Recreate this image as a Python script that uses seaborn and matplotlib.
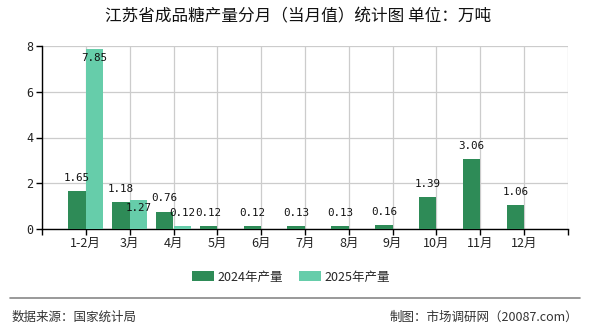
import matplotlib
matplotlib.use("Agg")
import matplotlib.pyplot as plt
import seaborn as sns
import pandas as pd
import numpy as np

months = ["1-2月", "3月", "4月", "5月", "6月", "7月", "8月", "9月", "10月", "11月", "12月"]
v2024 = [1.65, 1.18, 0.76, 0.12, 0.12, 0.13, 0.13, 0.16, 1.39, 3.06, 1.06]
v2025 = [7.85, 1.27, 0.12, None, None, None, None, None, None, None, None]
series = ["2024年产量", "2025年产量"]
yticks = [0, 2, 4, 6, 8]
title = "江苏省成品糖产量分月（当月值）统计图 单位：万吨"
source = "数据来源：国家统计局"
credit = "制图：市场调研网（20087.com）"

sns.set_theme(style="white")
plt.rcParams['font.family'] = ['Noto Sans CJK SC', 'DejaVu Sans']

rows = []
for m, a, b in zip(months, v2024, v2025):
    rows.append({"month": m, "series": series[0], "value": a})
    rows.append({"month": m, "series": series[1], "value": b if b is not None else np.nan})
df = pd.DataFrame(rows)

fig = plt.figure(figsize=(5.9, 3.3), dpi=100)
ax = fig.add_axes([42/590, 1-229/330, (568-42)/590, (229-46)/330])

sns.barplot(data=df, x="month", y="value", hue="series", order=months,
            hue_order=series, palette=["#2E8B57", "#66CDAA"], width=0.8,
            saturation=1, ax=ax, legend=True, zorder=3,
            linewidth=0, edgecolor="none")

n = len(months)
ax.set_xlim(-1, n)
ax.set_ylim(0, 8)
ax.set_xticks(range(-1, n + 1))
ax.set_xticklabels([""] + months + [""], fontsize=9)
ax.set_yticks(yticks)
ax.set_yticklabels([str(t) for t in yticks], fontsize=8.5, family="DejaVu Sans Mono")
ax.set_xlabel("")
ax.set_ylabel("")
ax.grid(True, color="#cccccc", linewidth=0.9, zorder=0)
ax.set_axisbelow(True)
for s in ["top", "right"]:
    ax.spines[s].set_visible(False)
ax.spines["left"].set_color("black")
ax.spines["bottom"].set_color("black")
ax.spines["left"].set_linewidth(1)
ax.spines["bottom"].set_linewidth(1)
ax.tick_params(axis="both", direction="out", length=4, width=1, color="black",
               bottom=True, left=True, pad=2, labelcolor="#222222")

# data labels
label_font = dict(fontsize=7.8, family="DejaVu Sans Mono", color="#111111", ha="center",
                  va="center", zorder=5)
off25 = {0: -6.5, 1: -6, 2: 9.5}
for i, v in enumerate(v2024):
    ax.annotate(f"{v:.2f}", (i - 0.2, v), xytext=(0, 9.5), textcoords="offset points",
                **label_font)
for i, v in enumerate(v2025):
    if v is None:
        continue
    ax.annotate(f"{v:.2f}", (i + 0.2, v), xytext=(0, off25.get(i, 9.5)),
                textcoords="offset points", **label_font)

handles, labels = ax.get_legend_handles_labels()
ax.get_legend().remove()
fig.legend(handles, labels, loc="center", bbox_to_anchor=(291/590, 1-277/330), ncol=2,
           frameon=False, fontsize=9, handlelength=1.76, handleheight=0.8,
           columnspacing=1.3, handletextpad=0.3, borderpad=0, borderaxespad=0)

fig.text(298/590, 1-17/330, title, ha="center", va="center", fontsize=12, color="#111111")
fig.add_artist(plt.Line2D([10/590, 580/590], [1-298/330, 1-298/330], color="#888888",
                          linewidth=1.2))
fig.text(12/590, 1-317/330, source, ha="left", va="center", fontsize=9, color="#333333")
fig.text(578/590, 1-317/330, credit, ha="right", va="center", fontsize=9, color="#333333")

fig.savefig("out.png", dpi=100)
